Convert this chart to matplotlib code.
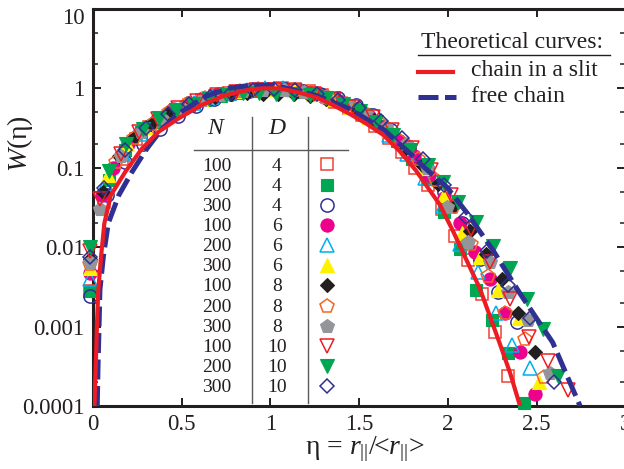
import matplotlib
matplotlib.use('Agg')
import matplotlib.pyplot as plt
from matplotlib.lines import Line2D
from matplotlib.ticker import LogLocator, NullFormatter
from matplotlib.transforms import ScaledTranslation

plt.rcParams['font.family'] = 'Liberation Serif'
plt.rcParams['mathtext.fontset'] = 'custom'
plt.rcParams['mathtext.rm'] = 'Liberation Serif'
plt.rcParams['mathtext.it'] = 'Liberation Serif:italic'

# theoretical curves
eta_slit = [0.008, 0.017, 0.0225, 0.03, 0.045, 0.064, 0.1, 0.182, 0.276, 0.37, 0.483, 0.614,
            0.745, 0.877, 0.95, 1.05, 1.15, 1.26, 1.35, 1.448, 1.54, 1.635, 1.73, 1.82, 1.955,
            2.028, 2.085, 2.18, 2.293, 2.35, 2.406]
w_slit = [1e-4, 4.1e-4, 0.0011, 0.0029, 0.0075, 0.02, 0.045, 0.089, 0.175, 0.285, 0.42, 0.62,
          0.82, 0.96, 1.0, 1.0, 0.9, 0.77, 0.62, 0.475, 0.36, 0.26, 0.16, 0.092, 0.034,
          0.016, 0.0085, 0.003, 6e-4, 2.6e-4, 1e-4]
eta_free = [0.024, 0.028, 0.033, 0.039, 0.058, 0.086, 0.145, 0.22, 0.304, 0.389, 0.5, 0.633,
            0.765, 0.89, 1.0, 1.07, 1.26, 1.448, 1.64, 1.8, 1.86, 1.994, 2.107, 2.254, 2.406,
            2.59, 2.744]
w_free = [1e-4, 3e-4, 8e-4, 0.0029, 0.0075, 0.02, 0.045, 0.089, 0.175, 0.31, 0.51, 0.79,
          1.0, 1.1, 1.09, 1.03, 0.81, 0.55, 0.3, 0.142, 0.104, 0.057, 0.027, 0.0091, 0.0026,
          6.3e-4, 1e-4]

# simulation data, one pair of lists per (N, D)
eta_n100_d4 = [-0.015, 0.06, 0.165, 0.24, 0.315, 0.39, 0.465, 0.54, 0.615, 0.69, 0.765, 0.84,
               0.915, 0.99, 1.065, 1.14, 1.215, 1.29, 1.365, 1.44, 1.515, 1.59, 1.665, 1.74,
               1.815, 1.89, 1.965, 2.04, 2.115, 2.19, 2.265, 2.34]
w_n100_d4 = [0.0028, 0.037, 0.13, 0.23, 0.33, 0.42, 0.53, 0.62, 0.72, 0.8, 0.87, 0.92,
             0.96, 0.99, 1.0, 0.98, 0.92, 0.83, 0.68, 0.57, 0.46, 0.34, 0.24, 0.16,
             0.1, 0.06, 0.03, 0.014, 0.0068, 0.0026, 0.00085, 0.00024]

eta_n200_d4 = [-0.015, 0.09, 0.18, 0.27, 0.36, 0.45, 0.54, 0.63, 0.72, 0.81, 0.9, 0.99, 1.08,
               1.17, 1.26, 1.35, 1.44, 1.53, 1.62, 1.71, 1.8, 1.89, 1.98, 2.07, 2.16, 2.25,
               2.34, 2.43]
w_n200_d4 = [0.0028, 0.07, 0.17, 0.28, 0.38, 0.5, 0.61, 0.72, 0.81, 0.88, 0.92, 0.95, 0.95,
             0.9, 0.82, 0.71, 0.6, 0.47, 0.34, 0.22, 0.13, 0.072, 0.028, 0.0096, 0.0029, 0.0012,
             0.00046, 0.00011]

eta_n300_d4 = [-0.015, 0.08, 0.18, 0.28, 0.38, 0.48, 0.58, 0.68, 0.78, 0.88, 0.98, 1.08, 1.18,
               1.28, 1.38, 1.48, 1.58, 1.68, 1.78, 1.88, 1.98, 2.08, 2.18, 2.28, 2.387]
w_n300_d4 = [0.0024, 0.045, 0.12, 0.2, 0.31, 0.45, 0.6, 0.74, 0.85, 0.93, 0.97, 0.98, 0.93,
             0.86, 0.76, 0.62, 0.46, 0.3, 0.18, 0.1, 0.05, 0.02, 0.0072, 0.0027, 0.00114]

eta_n100_d6 = [-0.015, 0.05, 0.11, 0.195, 0.28, 0.365, 0.45, 0.535, 0.62, 0.705, 0.79, 0.875,
               0.96, 1.045, 1.13, 1.215, 1.3, 1.385, 1.47, 1.555, 1.64, 1.725, 1.81, 1.895,
               1.98, 2.065, 2.15, 2.235, 2.32, 2.405, 2.49]
w_n100_d6 = [0.0048, 0.045, 0.1, 0.2, 0.31, 0.43, 0.55, 0.66, 0.76, 0.84, 0.9, 0.95,
             0.97, 0.97, 0.94, 0.88, 0.79, 0.69, 0.57, 0.45, 0.33, 0.22, 0.14, 0.08,
             0.042, 0.02, 0.0087, 0.004, 0.0015, 0.00048, 0.00014]

eta_n200_d6 = [-0.015, 0.07, 0.17, 0.27, 0.37, 0.47, 0.57, 0.67, 0.77, 0.87, 0.97, 1.07, 1.17,
               1.27, 1.37, 1.47, 1.57, 1.67, 1.77, 1.87, 1.97, 2.07, 2.17, 2.27, 2.36, 2.46]
w_n200_d6 = [0.004, 0.06, 0.15, 0.27, 0.4, 0.53, 0.66, 0.78, 0.88, 0.95, 1.0, 1.0, 0.95,
             0.85, 0.72, 0.58, 0.44, 0.26, 0.15, 0.075, 0.033, 0.011, 0.0049, 0.0015, 0.00058,
             0.0003]

eta_n300_d6 = [-0.015, 0.085, 0.19, 0.295, 0.4, 0.505, 0.61, 0.715, 0.82, 0.925, 1.03, 1.135,
               1.24, 1.345, 1.45, 1.555, 1.66, 1.765, 1.87, 1.975, 2.077, 2.18, 2.28, 2.4, 2.51]
w_n300_d6 = [0.0055, 0.08, 0.2, 0.33, 0.47, 0.61, 0.74, 0.85, 0.93, 0.98, 0.99, 0.95,
             0.86, 0.74, 0.59, 0.44, 0.3, 0.18, 0.1, 0.045, 0.015, 0.0075, 0.0029, 0.0013, 0.0002]

eta_n100_d8 = [-0.015, 0.055, 0.145, 0.235, 0.325, 0.415, 0.505, 0.595, 0.685, 0.775, 0.865,
               0.955, 1.045, 1.135, 1.225, 1.315, 1.405, 1.495, 1.585, 1.675, 1.765, 1.855,
               1.945, 2.035, 2.125, 2.215, 2.305, 2.395, 2.49]
w_n100_d8 = [0.007, 0.05, 0.14, 0.25, 0.36, 0.47, 0.58, 0.69, 0.79, 0.85, 0.87,
             0.86, 0.85, 0.84, 0.8, 0.74, 0.64, 0.53, 0.4, 0.28, 0.18, 0.11,
             0.062, 0.033, 0.016, 0.0083, 0.004, 0.0015, 0.00048]

eta_n200_d8 = [-0.015, 0.13, 0.23, 0.33, 0.43, 0.53, 0.63, 0.73, 0.83, 0.93, 1.03, 1.13, 1.23,
               1.33, 1.43, 1.53, 1.63, 1.73, 1.83, 1.93, 2.03, 2.13, 2.227, 2.32, 2.434, 2.54]
w_n200_d8 = [0.0062, 0.12, 0.24, 0.36, 0.5, 0.63, 0.75, 0.85, 0.92, 0.97, 0.98, 0.95, 0.87,
             0.76, 0.63, 0.49, 0.35, 0.22, 0.13, 0.07, 0.032, 0.011, 0.0044, 0.0015, 0.0007,
             0.00023]

eta_n300_d8 = [-0.015, 0.04, 0.155, 0.27, 0.385, 0.5, 0.615, 0.73, 0.845, 0.96, 1.075, 1.19,
               1.305, 1.42, 1.535, 1.65, 1.765, 1.88, 1.995, 2.11, 2.237, 2.34, 2.45, 2.575]
w_n300_d8 = [0.0065, 0.03, 0.14, 0.28, 0.42, 0.57, 0.71, 0.83, 0.92, 0.96, 0.96, 0.9,
             0.79, 0.64, 0.48, 0.33, 0.2, 0.1, 0.032, 0.0116, 0.0065, 0.0027, 0.0012, 0.00026]

eta_n100_d10 = [-0.015, 0.037, 0.16, 0.257, 0.367, 0.477, 0.587, 0.697, 0.807, 0.917, 1.027,
                1.137, 1.247, 1.357, 1.467, 1.577, 1.687, 1.797, 1.907, 2.017, 2.127, 2.237,
                2.35, 2.458, 2.565, 2.678]
w_n100_d10 = [0.009, 0.04, 0.15, 0.28, 0.41, 0.56, 0.7, 0.82, 0.9, 0.95, 0.96,
              0.93, 0.85, 0.73, 0.59, 0.44, 0.3, 0.18, 0.095, 0.045, 0.017, 0.0065,
              0.0022, 0.00074, 0.00037, 0.00016]

eta_n200_d10 = [-0.015, 0.092, 0.186, 0.28, 0.374, 0.468, 0.562, 0.656, 0.75, 0.844, 0.938,
                1.032, 1.126, 1.22, 1.314, 1.408, 1.502, 1.596, 1.69, 1.786, 1.89, 1.97, 2.058,
                2.16, 2.255, 2.35, 2.443, 2.537, 2.62]
w_n200_d10 = [0.01, 0.09, 0.2, 0.31, 0.42, 0.53, 0.64, 0.74, 0.82, 0.87, 0.88,
              0.86, 0.86, 0.83, 0.76, 0.64, 0.52, 0.38, 0.26, 0.166, 0.107, 0.066, 0.037,
              0.021, 0.0105, 0.0054, 0.0022, 0.00094, 0.00024]

eta_n300_d10 = [-0.015, 0.06, 0.18, 0.3, 0.42, 0.54, 0.66, 0.78, 0.9, 1.02, 1.14, 1.26, 1.38,
                1.5, 1.62, 1.74, 1.86, 1.98, 2.1, 2.22, 2.34, 2.46, 2.6]
w_n300_d10 = [0.0075, 0.055, 0.17, 0.32, 0.47, 0.63, 0.77, 0.88, 0.95, 0.98, 0.95, 0.86, 0.72,
              0.56, 0.39, 0.24, 0.13, 0.06, 0.024, 0.009, 0.0033, 0.0013, 0.0002]

table_n = [100, 200, 300, 100, 200, 300, 100, 200, 300, 100, 200, 300]
table_d = [4, 4, 4, 6, 6, 6, 8, 8, 8, 10, 10, 10]

red = '#ed1c24'
navy = '#2e3192'
ink = '#231f20'

# marker, color, filled, size
series = [
    (eta_n100_d4, w_n100_d4, 's', '#ef4136', False, 9),
    (eta_n200_d4, w_n200_d4, 's', '#00a651', True, 9),
    (eta_n300_d4, w_n300_d4, 'o', navy, False, 9.5),
    (eta_n100_d6, w_n100_d6, 'o', '#ec008c', True, 9.5),
    (eta_n200_d6, w_n200_d6, '^', '#00aeef', False, 9.5),
    (eta_n300_d6, w_n300_d6, '^', '#fff200', True, 9.5),
    (eta_n100_d8, w_n100_d8, 'D', ink, True, 7.5),
    (eta_n200_d8, w_n200_d8, 'p', '#f26522', False, 10),
    (eta_n300_d8, w_n300_d8, 'p', '#939598', True, 10),
    (eta_n100_d10, w_n100_d10, 'v', red, False, 9.5),
    (eta_n200_d10, w_n200_d10, 'v', '#00a651', True, 9.5),
    (eta_n300_d10, w_n300_d10, 'D', navy, False, 7.5),
]


def style(marker, color, filled, size):
    if filled:
        return dict(marker=marker, ms=size, mfc=color, mec=color, mew=0.8, ls='none')
    return dict(marker=marker, ms=size, mfc='none', mec=color, mew=1.1, ls='none')


fig = plt.figure(figsize=(6.24, 4.69), dpi=100)
W, H = 624.0, 469.0


def fx(x):
    return x / W


def fy(y):
    return 1 - y / H


ax = fig.add_axes([fx(93), fy(406), 532.5 / W, 397 / H])

for ex, wy, m, c, f, s in series:
    ax.plot(ex, wy, clip_on=False, zorder=3, **style(m, c, f, s))

ax.plot(eta_slit, w_slit, color=red, lw=3, zorder=5)
ax.plot(eta_free, w_free, color=navy, lw=3.6, dashes=(4, 1.3), zorder=4)

ax.set_yscale('log')
ax.set_xlim(0, 3)
ax.set_ylim(1e-4, 10)
ax.set_xticks([0, 0.5, 1, 1.5, 2, 2.5, 3])
ax.set_xticklabels(['0', '0.5', '1', '1.5', '2', '2.5', '3'])
ax.set_yticks([1e-4, 1e-3, 1e-2, 0.1, 1, 10])
ax.set_yticklabels(['0.0001', '0.001', '0.01', '0.1', '1', '10'])
ax.yaxis.set_minor_locator(LogLocator(base=10, subs=(2, 5)))
ax.yaxis.set_minor_formatter(NullFormatter())
ax.tick_params(which='major', direction='in', length=6, width=1.4, top=True, right=True,
               labelsize=16.5, pad=6, colors=ink)
ax.tick_params(which='minor', direction='in', length=3.5, width=1.1, top=True, right=True,
               colors=ink)
for sp in ax.spines.values():
    sp.set_linewidth(2.2)
    sp.set_color(ink)

# the "10" label sits a little below the top spine
top_label = ax.get_yticklabels()[-1]
top_label.set_transform(top_label.get_transform() + ScaledTranslation(0, -0.07, fig.dpi_scale_trans))

ax.set_xlabel('η = $r_{||}$/<$r_{||}$>', fontsize=20, color=ink)
ax.xaxis.set_label_coords(0.511, -0.072)
ax.set_ylabel('$W$(η)', fontsize=20, color=ink)
ax.yaxis.set_label_coords(-0.108, 0.66)

# legend for theoretical curves
fig.text(fx(421), fy(42), 'Theoretical curves:', fontsize=17, ha='left', va='center', color=ink)
fig.add_artist(Line2D([fx(418), fx(610)], [fy(55), fy(55)], color=ink, lw=1))
fig.add_artist(Line2D([fx(418), fx(453)], [fy(72), fy(72)], color=red, lw=3))
fig.text(fx(471), fy(71), 'chain in a slit', fontsize=17, ha='left', va='center', color=ink)
fig.add_artist(Line2D([fx(418), fx(456)], [fy(97), fy(97)], color=navy, lw=3.6,
                      dashes=(4, 1.3)))
fig.text(fx(471), fy(96), 'free chain', fontsize=17, ha='left', va='center', color=ink)

# table of N, D and symbols
grey = '#58595b'
fig.text(fx(217), fy(129), '$N$', fontsize=17, ha='center', va='center', color=ink)
fig.text(fx(277), fy(129), '$D$', fontsize=17, ha='center', va='center', color=ink)
fig.add_artist(Line2D([fx(194), fx(348)], [fy(150), fy(150)], color=grey, lw=1))
fig.add_artist(Line2D([fx(252), fx(252)], [fy(117), fy(403)], color=grey, lw=1))
fig.add_artist(Line2D([fx(308), fx(308)], [fy(117), fy(403)], color=grey, lw=1))
for i, (n, d) in enumerate(zip(table_n, table_d)):
    y = 166 + 20.15 * i
    fig.text(fx(217), fy(y), str(n), fontsize=14, ha='center', va='center', color=ink)
    fig.text(fx(277), fy(y), str(d), fontsize=14, ha='center', va='center', color=ink)
    _, _, m, c, f, s = series[i]
    fig.add_artist(Line2D([fx(327)], [fy(y - 1.5)], **style(m, c, f, s)))

fig.savefig('out.png', dpi=100)
